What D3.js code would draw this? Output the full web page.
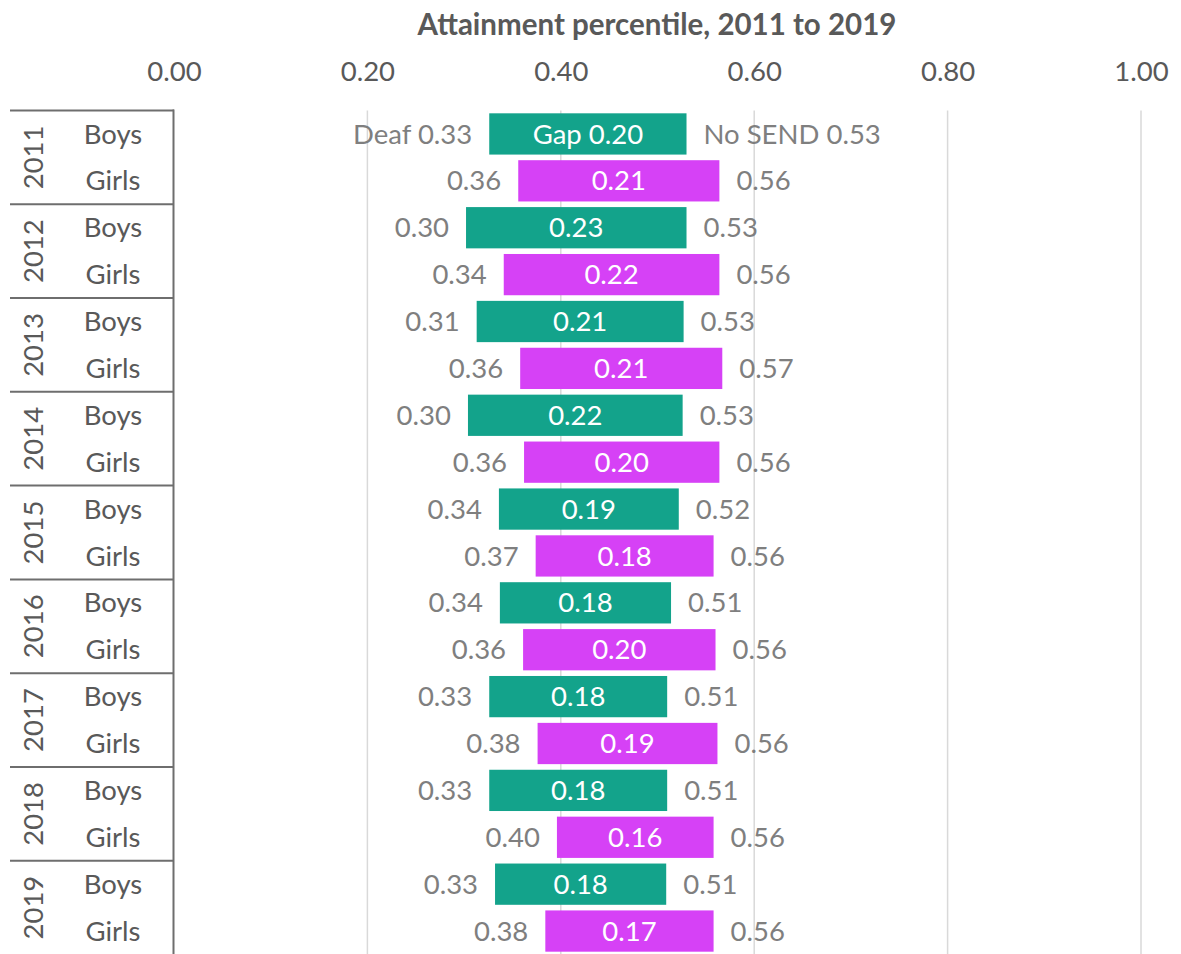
<!DOCTYPE html>
<html>
<head>
<meta charset="utf-8">
<script src="https://cdn.jsdelivr.net/npm/d3@7"></script>
<style>
  html, body { margin: 0; padding: 0; background: #fff; }
  svg { display: block; }
  text { font-family: Lato, "Open Sans", sans-serif; }
</style>
</head>
<body>
<svg id="chart" width="1181" height="954"></svg>
<script>
// Attainment percentile of deaf pupils vs pupils with no SEND, by year and sex
const years = ["2011", "2012", "2013", "2014", "2015", "2016", "2017", "2018", "2019"];
const sexes = ["Boys", "Girls"];
// one entry per year/sex row, in order 2011 Boys, 2011 Girls, 2012 Boys, ...
const deaf   = [0.326, 0.356, 0.302, 0.341, 0.313, 0.358, 0.304, 0.362, 0.336, 0.374, 0.337, 0.361, 0.326, 0.376, 0.326, 0.396, 0.332, 0.384];
const gap    = [0.204, 0.208, 0.228, 0.223, 0.214, 0.209, 0.222, 0.202, 0.186, 0.184, 0.177, 0.199, 0.184, 0.186, 0.184, 0.162, 0.177, 0.174];
const noSend = [0.530, 0.564, 0.530, 0.564, 0.527, 0.567, 0.526, 0.564, 0.522, 0.558, 0.514, 0.560, 0.510, 0.562, 0.510, 0.558, 0.509, 0.558];
const xTicks = [0, 0.2, 0.4, 0.6, 0.8, 1.0];
const title = "Attainment percentile, 2011 to 2019";

const colors = { Boys: "#13a38b", Girls: "#d641f6" };
const fmt = d3.format(".2f");

const rows = [];
years.forEach((yr, i) => sexes.forEach((sx, j) => {
  const k = i * 2 + j;
  rows.push({ key: yr + "-" + sx, year: yr, sex: sx, deaf: deaf[k], gap: gap[k], noSend: noSend[k] });
}));

const svg = d3.select("#chart");
const plotLeft = 174, plotRight = 1141, plotTop = 110.5, plotBottom = 954.5;
const x = d3.scaleLinear().domain([0, 1]).range([plotLeft, plotRight]);
const y = d3.scaleBand().domain(rows.map(d => d.key)).range([plotTop, plotBottom]).paddingInner(0.12).paddingOuter(0.06);
const yGroup = d3.scaleBand().domain(years).range([plotTop, plotBottom]);

// title
svg.append("text")
  .attr("x", 657).attr("y", 35)
  .attr("text-anchor", "middle")
  .attr("font-size", 29.5).attr("font-weight", 700)
  .attr("fill", "#595959")
  .text(title);

// gridlines
svg.append("g")
  .selectAll("line").data(xTicks.filter(d => d > 0)).join("line")
  .attr("x1", d => x(d)).attr("x2", d => x(d))
  .attr("y1", plotTop).attr("y2", plotBottom)
  .attr("stroke", "#d9d9d9").attr("stroke-width", 1.5);

// top axis labels
const xAxis = svg.append("g")
  .attr("transform", `translate(0,${plotTop - 30})`)
  .call(d3.axisTop(x).tickValues(xTicks).tickFormat(fmt).tickSize(0).tickPadding(0));
xAxis.select(".domain").remove();
xAxis.selectAll("text")
  .attr("font-family", "Lato, 'Open Sans', sans-serif")
  .attr("font-size", 27.5).attr("fill", "#595959");

// gap bars (stacked on an invisible deaf segment)
const bars = svg.append("g");
bars.selectAll("rect").data(rows).join("rect")
  .attr("x", d => x(d.deaf))
  .attr("width", d => x(d.deaf + d.gap) - x(d.deaf))
  .attr("y", d => y(d.key))
  .attr("height", y.bandwidth())
  .attr("fill", d => colors[d.sex]);

const labelSize = 27.5;
const cy = d => y(d.key) + y.bandwidth() / 2;

// gap labels inside the bars
bars.selectAll("text.gap").data(rows).join("text")
  .attr("class", "gap")
  .attr("x", d => x(d.deaf + d.gap / 2))
  .attr("y", cy).attr("dy", "0.35em")
  .attr("text-anchor", "middle")
  .attr("font-size", labelSize).attr("fill", "#fff")
  .text((d, i) => (i === 0 ? "Gap " : "") + fmt(d.gap));

// deaf labels, left of the bar
bars.selectAll("text.deaf").data(rows).join("text")
  .attr("class", "deaf")
  .attr("x", d => x(d.deaf) - 17)
  .attr("y", cy).attr("dy", "0.35em")
  .attr("text-anchor", "end")
  .attr("font-size", labelSize).attr("fill", "#7f7f7f")
  .text((d, i) => (i === 0 ? "Deaf " : "") + fmt(d.deaf));

// no-SEND labels, right of the bar
bars.selectAll("text.nosend").data(rows).join("text")
  .attr("class", "nosend")
  .attr("x", d => x(d.noSend) + 17)
  .attr("y", cy).attr("dy", "0.35em")
  .attr("text-anchor", "start")
  .attr("font-size", labelSize).attr("fill", "#7f7f7f")
  .text((d, i) => (i === 0 ? "No SEND " : "") + fmt(d.noSend));

// two-level category axis on the left
const cat = svg.append("g");
cat.append("line")
  .attr("x1", plotLeft - 0.5).attr("x2", plotLeft - 0.5)
  .attr("y1", plotTop - 1).attr("y2", plotBottom)
  .attr("stroke", "#6e6e6e").attr("stroke-width", 2);
cat.selectAll("line.sep").data(years).join("line")
  .attr("class", "sep")
  .attr("x1", 10).attr("x2", plotLeft)
  .attr("y1", d => yGroup(d)).attr("y2", d => yGroup(d))
  .attr("stroke", "#6e6e6e").attr("stroke-width", 2);
cat.selectAll("text.sex").data(rows).join("text")
  .attr("class", "sex")
  .attr("x", 113).attr("y", cy).attr("dy", "0.35em")
  .attr("text-anchor", "middle")
  .attr("font-size", labelSize).attr("fill", "#595959")
  .text(d => d.sex);
cat.selectAll("text.year").data(years).join("text")
  .attr("class", "year")
  .attr("transform", d => `translate(33,${yGroup(d) + yGroup.bandwidth() / 2}) rotate(-90)`)
  .attr("dy", "0.35em")
  .attr("text-anchor", "middle")
  .attr("font-size", labelSize).attr("fill", "#595959")
  .text(d => d);
</script>
</body>
</html>
